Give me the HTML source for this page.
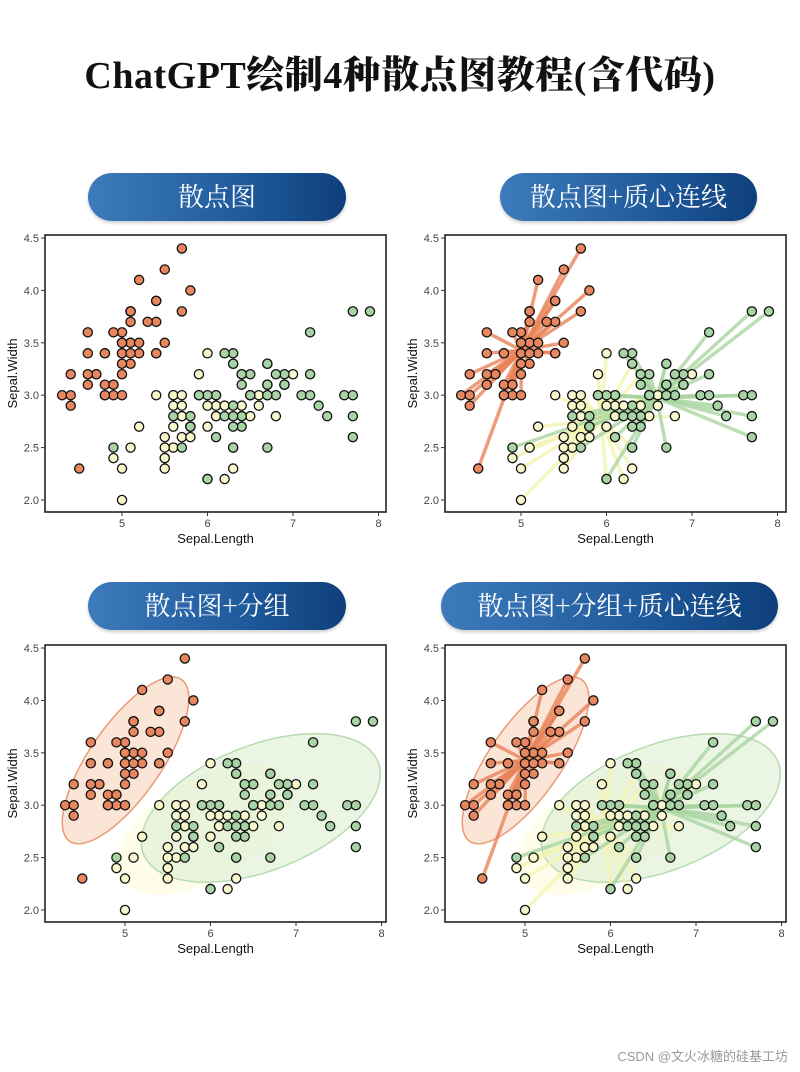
<!DOCTYPE html>
<html><head><meta charset="utf-8">
<style>
body{margin:0;width:800px;height:1072px;background:#fff;position:relative;overflow:hidden;font-family:"Liberation Sans","Noto Sans CJK SC",sans-serif}
.title{position:absolute;left:0;width:800px;top:44px;text-align:center;font:900 38px "Liberation Serif","Noto Serif CJK SC",serif;color:#111;letter-spacing:0.5px}
.banner{position:absolute;height:48px;border-radius:24px;background:linear-gradient(90deg,#3d7bbb,#1f5a9c 60%,#0e3f7a);color:#fff;font:26px "Noto Serif CJK SC",serif;text-align:center;line-height:46px;box-shadow:0 2px 3px rgba(0,0,0,.2)}
svg{position:absolute;left:0;top:0}
.wm{position:absolute;right:12px;top:1046px;font-size:13px;color:#999}
</style></head><body>
<div class="title">ChatGPT绘制4种散点图教程(含代码)</div>
<div class="banner" style="left:88px;top:173px;width:258px">散点图</div>
<div class="banner" style="left:500px;top:173px;width:257px">散点图+质心连线</div>
<div class="banner" style="left:88px;top:582px;width:258px">散点图+分组</div>
<div class="banner" style="left:441px;top:582px;width:337px">散点图+分组+质心连线</div>
<svg id="chart" width="800" height="1072"></svg>
<div class="wm">CSDN @文火冰糖的硅基工坊</div>
<script>
const species=["setosa","versicolor","virginica"];
const setosaX=[5.1,4.9,4.7,4.6,5.0,5.4,4.6,5.0,4.4,4.9,5.4,4.8,4.8,4.3,5.8,5.7,5.4,5.1,5.7,5.1,5.4,5.1,4.6,5.1,4.8,5.0,5.0,5.2,5.2,4.7,4.8,5.4,5.2,5.5,4.9,5.0,5.5,4.9,4.4,5.1,5.0,4.5,4.4,5.0,5.1,4.8,5.1,4.6,5.3,5.0];
const setosaY=[3.5,3.0,3.2,3.1,3.6,3.9,3.4,3.4,2.9,3.1,3.7,3.4,3.0,3.0,4.0,4.4,3.9,3.5,3.8,3.8,3.4,3.7,3.6,3.3,3.4,3.0,3.4,3.5,3.4,3.2,3.1,3.4,4.1,4.2,3.1,3.2,3.5,3.6,3.0,3.4,3.5,2.3,3.2,3.5,3.8,3.0,3.8,3.2,3.7,3.3];
const versiX=[7.0,6.4,6.9,5.5,6.5,5.7,6.3,4.9,6.6,5.2,5.0,5.9,6.0,6.1,5.6,6.7,5.6,5.8,6.2,5.6,5.9,6.1,6.3,6.1,6.4,6.6,6.8,6.7,6.0,5.7,5.5,5.5,5.8,6.0,5.4,6.0,6.7,6.3,5.6,5.5,5.5,6.1,5.8,5.0,5.6,5.7,5.7,6.2,5.1,5.7];
const versiY=[3.2,3.2,3.1,2.3,2.8,2.8,3.3,2.4,2.9,2.7,2.0,3.0,2.2,2.9,2.9,3.1,3.0,2.7,2.2,2.5,3.2,2.8,2.5,2.8,2.9,3.0,2.8,3.0,2.9,2.6,2.4,2.4,2.7,2.7,3.0,3.4,3.1,2.3,3.0,2.5,2.6,3.0,2.6,2.3,2.7,3.0,2.9,2.9,2.5,2.8];
const virgX=[6.3,5.8,7.1,6.3,6.5,7.6,4.9,7.3,6.7,7.2,6.5,6.4,6.8,5.7,5.8,6.4,6.5,7.7,7.7,6.0,6.9,5.6,7.7,6.3,6.7,7.2,6.2,6.1,6.4,7.2,7.4,7.9,6.4,6.3,6.1,7.7,6.3,6.4,6.0,6.9,6.7,6.9,5.8,6.8,6.7,6.7,6.3,6.5,6.2,5.9];
const virgY=[3.3,2.7,3.0,2.9,3.0,3.0,2.5,2.9,2.5,3.6,3.2,2.7,3.0,2.5,2.8,3.2,3.0,3.8,2.6,2.2,3.2,2.8,2.8,2.7,3.3,3.2,2.8,3.0,2.8,3.0,2.8,3.8,2.8,2.8,2.6,3.0,3.4,3.1,3.0,3.1,3.1,3.1,2.7,3.2,3.3,3.0,2.5,3.0,3.4,3.0];
const xTicks=[5,6,7,8];
const yTicks=[2.0,2.5,3.0,3.5,4.0,4.5];
const groups=[{x:setosaX,y:setosaY,fill:"#e8875f",line:"#e8835a",ell:"#f8d3bd"},{x:versiX,y:versiY,fill:"#f8f8cc",line:"#f4f4b0",ell:"#fcfcdc"},{x:virgX,y:virgY,fill:"#a8d3a5",line:"#a9d4a0",ell:"#dcefd0"}];
const NS="http://www.w3.org/2000/svg";
const svg=document.getElementById('chart');
function mk(tag,attrs,parent){const e=document.createElementNS(NS,tag);for(const k in attrs)e.setAttribute(k,attrs[k]);(parent||svg).appendChild(e);return e;}
const panels=[{bx:45,by:235,bw:341,bh:277,x5:122,y45:238,cent:false,ell:false,name:"scatter"},
{bx:445,by:235,bw:341,bh:277,x5:521,y45:238,cent:true,ell:false,name:"centroid"},
{bx:45,by:645,bw:341,bh:277,x5:125,y45:648,cent:false,ell:true,name:"group"},
{bx:445,by:645,bw:341,bh:277,x5:525,y45:648,cent:true,ell:true,name:"group-centroid"}];
const kx=85.5,ky=104.8;
const defs=mk('defs',{});
panels.forEach((p,pi)=>{
  const cp=mk('clipPath',{id:'clip'+pi},defs);
  mk('rect',{x:p.bx,y:p.by,width:p.bw,height:p.bh},cp);
  const g=mk('g',{});
  
  
  const gc=mk('g',{'clip-path':'url(#clip'+pi+')'},g);
  const X=v=>p.x5+(v-5)*kx, Y=v=>p.y45+(4.5-v)*ky;
  if(p.ell){groups.forEach((gr,i)=>{
    const n=gr.x.length,mx=gr.x.reduce((a,b)=>a+b)/n,my=gr.y.reduce((a,b)=>a+b)/n;
    let sxx=0,syy=0,sxy=0;for(let j=0;j<n;j++){sxx+=(gr.x[j]-mx)**2;syy+=(gr.y[j]-my)**2;sxy+=(gr.x[j]-mx)*(gr.y[j]-my);}
    sxx/=n-1;syy/=n-1;sxy/=n-1;
    const tr=sxx+syy,det=sxx*syy-sxy*sxy,l1=tr/2+Math.sqrt(tr*tr/4-det),l2=tr/2-Math.sqrt(tr*tr/4-det);
    const ang=Math.atan2(l1-sxx,sxy),c=i==0?2.1:(i==2?2.2:2.0);
    let pts=[];for(let t=0;t<=64;t++){const a=t/64*2*Math.PI;const u=c*Math.sqrt(l1)*Math.cos(a),v=c*Math.sqrt(l2)*Math.sin(a);
      pts.push(X(mx+u*Math.cos(ang)-v*Math.sin(ang)).toFixed(1)+','+Y(my+u*Math.sin(ang)+v*Math.cos(ang)).toFixed(1));}
    const e=mk('polygon',{points:pts.join(' '),fill:gr.ell,'fill-opacity':0.6,stroke:i==1?'none':gr.line,'stroke-width':1.5,'stroke-opacity':0.8},gc);
    
    
  });}
  if(p.cent){groups.forEach((gr,i)=>{
    const n=gr.x.length,mx=gr.x.reduce((a,b)=>a+b)/n,my=gr.y.reduce((a,b)=>a+b)/n;
    for(let j=0;j<n;j++){const l=mk('line',{x1:X(mx),y1:Y(my),x2:X(gr.x[j]),y2:Y(gr.y[j]),stroke:gr.line,'stroke-width':3.5,'stroke-opacity':0.8},gc);
      
      }
  });}
  groups.forEach((gr,i)=>{for(let j=0;j<gr.x.length;j++){
    const c=mk('circle',{cx:X(gr.x[j]),cy:Y(gr.y[j]),r:4.6,fill:gr.fill,stroke:'#111','stroke-width':1.3},g);
    
    }});
  const b=mk('rect',{x:p.bx,y:p.by,width:p.bw,height:p.bh,fill:'none',stroke:'#222','stroke-width':1.6},g);
  
  
  xTicks.forEach(t=>{mk('line',{x1:X(t),x2:X(t),y1:p.by+p.bh,y2:p.by+p.bh+4,stroke:'#333'},g);
    const tx=mk('text',{x:X(t),y:p.by+p.bh+15,'text-anchor':'middle','font-size':11,fill:'#444'},g);tx.textContent=t;
    
    });
  yTicks.forEach(t=>{mk('line',{x1:p.bx-4,x2:p.bx,y1:Y(t),y2:Y(t),stroke:'#333'},g);
    const tx=mk('text',{x:p.bx-6,y:Y(t)+4,'text-anchor':'end','font-size':11,fill:'#444'},g);tx.textContent=t.toFixed(1);
    
    });
  const xt=mk('text',{x:p.bx+p.bw/2,y:p.by+p.bh+31,'text-anchor':'middle','font-size':13,fill:'#111'},g);xt.textContent='Sepal.Length';
  
  
  const yt=mk('text',{x:0,y:0,'text-anchor':'middle','font-size':13,fill:'#111',transform:`translate(${p.bx-28},${p.by+p.bh/2}) rotate(-90)`},g);yt.textContent='Sepal.Width';
  
  
});
</script>
</body></html>
